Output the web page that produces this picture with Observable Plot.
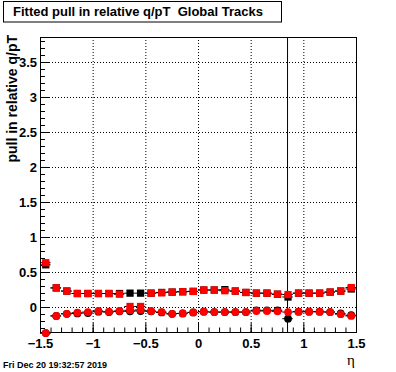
<!DOCTYPE html>
<html><head><meta charset="utf-8">
<script src="https://cdn.jsdelivr.net/npm/d3@7"></script>
<script src="https://cdn.jsdelivr.net/npm/@observablehq/plot@0.6"></script>
<style>body{margin:0;background:#fff}</style>
</head><body><div id="chart"></div>
<script>
const eta = [-1.45,-1.35,-1.25,-1.15,-1.05,-0.95,-0.85,-0.75,-0.65,-0.55,-0.45,-0.35,-0.25,-0.15,-0.05,0.05,0.15,0.25,0.35,0.45,0.55,0.65,0.75,0.85,0.95,1.05,1.15,1.25,1.35,1.45];
const squaresRed   = [0.64,0.28,0.235,0.20,0.20,0.20,0.20,0.19,0.015,0.015,0.205,0.21,0.22,0.225,0.23,0.25,0.25,0.24,0.235,0.215,0.205,0.205,0.19,0.185,0.205,0.205,0.205,0.22,0.235,0.285];
const squaresBlack = [0.61,0.28,0.235,0.20,0.20,0.20,0.20,0.20,0.205,0.205,0.205,0.215,0.22,0.225,0.23,0.25,0.25,0.255,0.235,0.215,0.205,0.205,0.19,0.15,0.205,0.205,0.205,0.22,0.235,0.265];
const circlesRed   = [-0.365,-0.12,-0.09,-0.075,-0.065,-0.05,-0.06,-0.05,-0.04,-0.035,-0.05,-0.065,-0.09,-0.085,-0.07,-0.06,-0.065,-0.065,-0.065,-0.065,-0.05,-0.05,-0.055,-0.065,-0.06,-0.06,-0.06,-0.065,-0.095,-0.12];
const circlesBlack = [-0.365,-0.12,-0.09,-0.085,-0.08,-0.06,-0.065,-0.055,-0.055,-0.05,-0.055,-0.07,-0.09,-0.085,-0.07,-0.06,-0.065,-0.065,-0.065,-0.065,-0.04,-0.04,-0.04,-0.16,-0.06,-0.06,-0.06,-0.065,-0.085,-0.11];
const circlesBlackErr = [0,0,0,0,0,0,0,0,0,0,0,0,0,0,0,0,0,0,0,0,0,0,0,6,0,0,0,0,0,0];
const binHalfWidth = 0.05;

const xTicks = [-1.5,-1,-0.5,0,0.5,1,1.5];
const xTickLabels = ["\u22121.5","\u22121","\u22120.5","0","0.5","1","1.5"];
const yTicks = [0,0.5,1,1.5,2,2.5,3,3.5];
const yTickLabels = ["0","0.5","1","1.5","2","2.5","3","3.5"];
const xMinor = d3.range(-15,16).map(i => i/10);
const yMinor = d3.range(-3,39).map(i => i/10);

const titleText = "Fitted pull in relative q/pT  Global Tracks";
const yLabel = "pull in relative q/pT";
const xLabel = "\u03b7";
const dateText = "Fri Dec 20 19:32:57 2019";

const rows = eta.map((x,i) => ({x, sqR: squaresRed[i], sqB: squaresBlack[i], ciR: circlesRed[i], ciB: circlesBlack[i], eB: circlesBlackErr[i]}));

const hbar = (key) => Plot.ruleY(rows, {y: key, x1: d => d.x - binHalfWidth, x2: d => d.x + binHalfWidth, stroke: "black", strokeWidth: 1});

const chart = Plot.plot({
  width: 396, height: 372,
  marginLeft: 40, marginRight: 40, marginTop: 37, marginBottom: 40,
  style: {fontFamily: "'Liberation Sans', Arial, sans-serif", fontSize: "13px", fontWeight: "bold", background: "white", overflow: "visible"},
  x: {domain: [-1.5, 1.5]},
  y: {domain: [-0.357, 3.857]},
  marks: [
    Plot.gridX(xTicks.slice(1,-1), {stroke: "black", strokeOpacity: 1, strokeDasharray: "1,2"}),
    Plot.gridY(yTicks, {stroke: "black", strokeOpacity: 1, strokeDasharray: "1,2"}),
    Plot.tickY(yMinor, {y: d => d, insetRight: 311, stroke: "black"}),
    Plot.tickY(yTicks, {y: d => d, insetRight: 307, stroke: "black"}),
    Plot.tickX(xMinor, {x: d => d, insetTop: 290.5, stroke: "black"}),
    Plot.tickX(xTicks, {x: d => d, insetTop: 286, stroke: "black"}),
    Plot.axisX(xTicks, {tickSize: 0, tickPadding: 6, label: null, tickFormat: d => xTickLabels[xTicks.indexOf(d)]}),
    Plot.axisY(yTicks, {tickSize: 0, tickPadding: 3.5, label: null, tickFormat: d => yTickLabels[yTicks.indexOf(d)]}),
    Plot.frame({stroke: "black"}),
    hbar("sqB"), hbar("ciB"), hbar("sqR"), hbar("ciR"),
    Plot.ruleX(rows.filter(d => d.eB > 0), {x: "x", y1: d => d.ciB - d.eB, y2: d => d.ciB + d.eB, stroke: "black", dx: -0.5, clip: true}),
    Plot.dot(rows, {x: "x", y: "sqB", symbol: "square", r: 4.1, fill: "black"}),
    Plot.dot(rows, {x: "x", y: "ciB", symbol: "circle", r: 3.9, fill: "black"}),
    Plot.dot(rows, {x: "x", y: "sqR", symbol: "square", r: 4.1, fill: "#ff0000"}),
    Plot.dot(rows, {x: "x", y: "ciR", symbol: "circle", r: 3.9, fill: "#ff0000"})
  ]
});

const svg = d3.select(chart);
svg.append("rect").attr("x", 3.5).attr("y", 1.5).attr("width", 278).attr("height", 20.5)
  .attr("fill", "white").attr("stroke", "black").attr("stroke-width", 1);
svg.append("text").attr("x", 13).attr("y", 16).attr("font-size", 13).attr("font-weight", "bold")
  .attr("text-anchor", "start").style("white-space", "pre").text(titleText);
svg.append("text").attr("transform", "translate(17,35) rotate(-90)").attr("text-anchor", "end")
  .attr("font-size", 14).attr("font-weight", "bold").text(yLabel);
svg.append("text").attr("x", 347).attr("y", 365).attr("text-anchor", "start").attr("font-size", 15)
  .attr("font-weight", "normal").attr("font-family", "'Liberation Serif', 'DejaVu Serif', serif").text(xLabel);
svg.append("text").attr("x", 3).attr("y", 368).attr("text-anchor", "start").attr("font-size", 9)
  .attr("font-weight", "bold").text(dateText);

document.getElementById("chart").appendChild(chart);
</script>
</body></html>
